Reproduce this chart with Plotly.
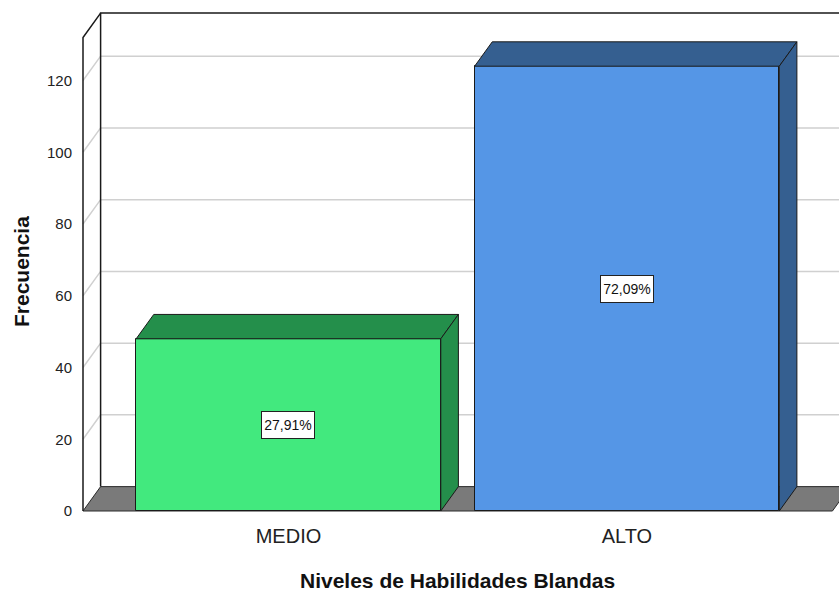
import plotly.graph_objects as go

# ---- data ----
categories = ["MEDIO", "ALTO"]
frecuencias = [48, 124]
y_ticks = [0, 20, 40, 60, 80, 100, 120]
x_title = "Niveles de Habilidades Blandas"
y_title = "Frecuencia"

front_colors = ["#42E97E", "#5596E6"]
side_colors = ["#248F4B", "#355F90"]

total = sum(frecuencias)
pct_labels = [f"{v / total * 100:.2f}".replace(".", ",") + "%" for v in frecuencias]

# ---- geometry (layout constants) ----
FONT = "Arial, 'Liberation Sans', sans-serif"
xs = list(range(len(categories)))
W = 0.9          # bar width (category units)
DX = 0.052       # 3D depth, x (category units)
DY = 6.8         # 3D depth, y (value units)
PAD = 0.607      # floor padding beyond first/last category
YTOP = 132       # height of front axis
x_left = xs[0] - PAD
x_right = xs[-1] + PAD

ML, MR, MT, MB = 78, 0, 8, 78
PX_CAT = 338.5
PX_VAL = 3.587
plot_w = 839 - ML - MR
plot_h = 593 - MT - MB
xr0 = x_left - 5 / PX_CAT
x_range = [xr0, xr0 + plot_w / PX_CAT]
yr0 = -4 / PX_VAL
y_range = [yr0, yr0 + plot_h / PX_VAL]

EDGE = "#1a1a1a"
GRID = "#d0d0d0"

fig = go.Figure()
fig.add_trace(go.Bar(
    x=xs, y=frecuencias, width=W,
    marker=dict(color=front_colors, line=dict(color=EDGE, width=1)),
    hoverinfo="skip", showlegend=False,
))

shapes = []
# floor
shapes.append(dict(
    type="path", xref="x", yref="y", layer="below",
    path=f"M {x_left},0 L {x_left + DX},{DY} L {x_right + DX},{DY} L {x_right},0 Z",
    fillcolor="#7a7a7a", line=dict(color="#2b2b2b", width=1),
))
# gridlines (side wall diagonal + back wall horizontal)
for t in y_ticks[1:]:
    shapes.append(dict(
        type="path", xref="x", yref="y", layer="below",
        path=f"M {x_left},{t} L {x_left + DX},{t + DY} L {x_right + DX + 1},{t + DY}",
        line=dict(color=GRID, width=1.5),
    ))
# back wall left edge + top edge
shapes.append(dict(
    type="path", xref="x", yref="y", layer="below",
    path=f"M {x_left + DX},{DY} L {x_left + DX},{YTOP + DY} L {x_right + DX + 1},{YTOP + DY}",
    line=dict(color=EDGE, width=1.5),
))
# front axis + diagonal top
shapes.append(dict(
    type="path", xref="x", yref="y", layer="below",
    path=f"M {x_left},0 L {x_left},{YTOP} L {x_left + DX},{YTOP + DY}",
    line=dict(color=EDGE, width=1.5),
))
# bar tops and sides
for x, v, c in zip(xs, frecuencias, side_colors):
    l, r = x - W / 2, x + W / 2
    shapes.append(dict(
        type="path", xref="x", yref="y", layer="above",
        path=f"M {l},{v} L {l + DX},{v + DY} L {r + DX},{v + DY} L {r},{v} Z",
        fillcolor=c, line=dict(color=EDGE, width=1),
    ))
    shapes.append(dict(
        type="path", xref="x", yref="y", layer="above",
        path=f"M {r},0 L {r},{v} L {r + DX},{v + DY} L {r + DX},{DY} Z",
        fillcolor=c, line=dict(color=EDGE, width=1),
    ))

annotations = []
for x, v, lab in zip(xs, frecuencias, pct_labels):
    annotations.append(dict(
        x=x, y=v / 2, xref="x", yref="y", text=lab, showarrow=False,
        font=dict(family=FONT, size=14, color="#111"),
        width=50, height=24,
        bgcolor="white", bordercolor="#222", borderwidth=1, borderpad=1,
    ))
annotations.append(dict(
    x=(xs[0] + xs[-1]) / 2, y=0, xref="x", yref="paper", yanchor="middle",
    yshift=-65, text=x_title, showarrow=False,
    font=dict(family=FONT, size=21, color="#111", weight="bold"),
))
annotations.append(dict(
    x=0, xref="paper", xanchor="center", xshift=-(ML - 21),
    y=(593 - MB - 272) / plot_h, yref="paper", yanchor="middle",
    text=y_title, textangle=-90, showarrow=False,
    font=dict(family=FONT, size=21, color="#111", weight="bold"),
))

fig.update_layout(
    width=839, height=593,
    margin=dict(l=ML, r=MR, t=MT, b=MB),
    paper_bgcolor="white", plot_bgcolor="white",
    shapes=shapes, annotations=annotations,
    bargap=0,
    xaxis=dict(
        range=x_range, tickvals=xs, ticktext=categories,
        showgrid=False, zeroline=False, showline=False,
        ticks="outside", ticklen=3, tickcolor="rgba(0,0,0,0)",
        tickfont=dict(family=FONT, size=20, color="#222"),
    ),
    yaxis=dict(
        range=y_range, tickvals=y_ticks,
        showgrid=False, zeroline=False, showline=False,
        ticks="outside", ticklen=2, tickcolor="rgba(0,0,0,0)",
        tickfont=dict(family=FONT, size=15, color="#222"),
    ),
)

fig.write_html("out.html", config={"displayModeBar": False},
               post_script="document.body.style.margin='0';")
